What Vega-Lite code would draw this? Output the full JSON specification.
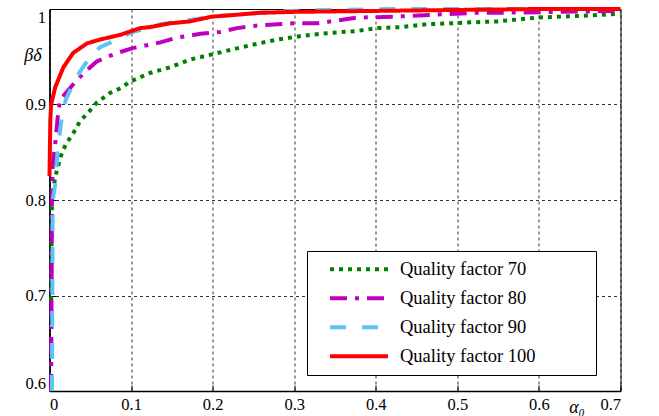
{
  "$schema": "https://vega.github.io/schema/vega-lite/v6.json",
  "width": 571,
  "height": 382,
  "autosize": {"type": "none"},
  "padding": {"left": 49.5, "top": 9, "right": 38.5, "bottom": 25},
  "background": "white",
  "config": {
    "font": "Liberation Serif",
    "view": {"stroke": "black", "strokeWidth": 1}
  },
  "data": {
    "values": [
      {"s": "Quality factor 70", "alpha": 0.002, "beta": 0.695},
      {"s": "Quality factor 70", "alpha": 0.003, "beta": 0.8},
      {"s": "Quality factor 70", "alpha": 0.007, "beta": 0.824},
      {"s": "Quality factor 70", "alpha": 0.010, "beta": 0.834},
      {"s": "Quality factor 70", "alpha": 0.015, "beta": 0.849},
      {"s": "Quality factor 70", "alpha": 0.021, "beta": 0.860},
      {"s": "Quality factor 70", "alpha": 0.028, "beta": 0.868},
      {"s": "Quality factor 70", "alpha": 0.037, "beta": 0.882},
      {"s": "Quality factor 70", "alpha": 0.050, "beta": 0.894},
      {"s": "Quality factor 70", "alpha": 0.058, "beta": 0.902},
      {"s": "Quality factor 70", "alpha": 0.074, "beta": 0.912},
      {"s": "Quality factor 70", "alpha": 0.087, "beta": 0.917},
      {"s": "Quality factor 70", "alpha": 0.099, "beta": 0.924},
      {"s": "Quality factor 70", "alpha": 0.123, "beta": 0.933},
      {"s": "Quality factor 70", "alpha": 0.148, "beta": 0.939},
      {"s": "Quality factor 70", "alpha": 0.172, "beta": 0.947},
      {"s": "Quality factor 70", "alpha": 0.197, "beta": 0.952},
      {"s": "Quality factor 70", "alpha": 0.221, "beta": 0.957},
      {"s": "Quality factor 70", "alpha": 0.246, "beta": 0.962},
      {"s": "Quality factor 70", "alpha": 0.279, "beta": 0.968},
      {"s": "Quality factor 70", "alpha": 0.311, "beta": 0.972},
      {"s": "Quality factor 70", "alpha": 0.344, "beta": 0.975},
      {"s": "Quality factor 70", "alpha": 0.377, "beta": 0.977},
      {"s": "Quality factor 70", "alpha": 0.402, "beta": 0.980},
      {"s": "Quality factor 70", "alpha": 0.430, "beta": 0.981},
      {"s": "Quality factor 70", "alpha": 0.463, "beta": 0.984},
      {"s": "Quality factor 70", "alpha": 0.491, "beta": 0.985},
      {"s": "Quality factor 70", "alpha": 0.516, "beta": 0.986},
      {"s": "Quality factor 70", "alpha": 0.549, "beta": 0.987},
      {"s": "Quality factor 70", "alpha": 0.598, "beta": 0.991},
      {"s": "Quality factor 70", "alpha": 0.655, "beta": 0.993},
      {"s": "Quality factor 70", "alpha": 0.700, "beta": 0.995},

      {"s": "Quality factor 80", "alpha": 0.002, "beta": 0.6},
      {"s": "Quality factor 80", "alpha": 0.003, "beta": 0.8},
      {"s": "Quality factor 80", "alpha": 0.004, "beta": 0.837},
      {"s": "Quality factor 80", "alpha": 0.007, "beta": 0.858},
      {"s": "Quality factor 80", "alpha": 0.010, "beta": 0.886},
      {"s": "Quality factor 80", "alpha": 0.013, "beta": 0.905},
      {"s": "Quality factor 80", "alpha": 0.025, "beta": 0.917},
      {"s": "Quality factor 80", "alpha": 0.034, "beta": 0.926},
      {"s": "Quality factor 80", "alpha": 0.046, "beta": 0.936},
      {"s": "Quality factor 80", "alpha": 0.058, "beta": 0.945},
      {"s": "Quality factor 80", "alpha": 0.071, "beta": 0.950},
      {"s": "Quality factor 80", "alpha": 0.087, "beta": 0.955},
      {"s": "Quality factor 80", "alpha": 0.102, "beta": 0.959},
      {"s": "Quality factor 80", "alpha": 0.136, "beta": 0.965},
      {"s": "Quality factor 80", "alpha": 0.156, "beta": 0.970},
      {"s": "Quality factor 80", "alpha": 0.185, "beta": 0.974},
      {"s": "Quality factor 80", "alpha": 0.209, "beta": 0.976},
      {"s": "Quality factor 80", "alpha": 0.230, "beta": 0.980},
      {"s": "Quality factor 80", "alpha": 0.258, "beta": 0.983},
      {"s": "Quality factor 80", "alpha": 0.299, "beta": 0.985},
      {"s": "Quality factor 80", "alpha": 0.328, "beta": 0.985},
      {"s": "Quality factor 80", "alpha": 0.353, "beta": 0.988},
      {"s": "Quality factor 80", "alpha": 0.377, "beta": 0.991},
      {"s": "Quality factor 80", "alpha": 0.424, "beta": 0.992},
      {"s": "Quality factor 80", "alpha": 0.471, "beta": 0.994},
      {"s": "Quality factor 80", "alpha": 0.520, "beta": 0.996},
      {"s": "Quality factor 80", "alpha": 0.544, "beta": 0.996},
      {"s": "Quality factor 80", "alpha": 0.626, "beta": 0.997},
      {"s": "Quality factor 80", "alpha": 0.700, "beta": 0.998},

      {"s": "Quality factor 90", "alpha": 0.003, "beta": 0.6},
      {"s": "Quality factor 90", "alpha": 0.004, "beta": 0.80},
      {"s": "Quality factor 90", "alpha": 0.007, "beta": 0.816},
      {"s": "Quality factor 90", "alpha": 0.010, "beta": 0.852},
      {"s": "Quality factor 90", "alpha": 0.015, "beta": 0.886},
      {"s": "Quality factor 90", "alpha": 0.020, "beta": 0.905},
      {"s": "Quality factor 90", "alpha": 0.028, "beta": 0.920},
      {"s": "Quality factor 90", "alpha": 0.037, "beta": 0.934},
      {"s": "Quality factor 90", "alpha": 0.050, "beta": 0.950},
      {"s": "Quality factor 90", "alpha": 0.062, "beta": 0.960},
      {"s": "Quality factor 90", "alpha": 0.083, "beta": 0.968},
      {"s": "Quality factor 90", "alpha": 0.099, "beta": 0.975},
      {"s": "Quality factor 90", "alpha": 0.136, "beta": 0.984},
      {"s": "Quality factor 90", "alpha": 0.200, "beta": 0.992},
      {"s": "Quality factor 90", "alpha": 0.258, "beta": 0.996},
      {"s": "Quality factor 90", "alpha": 0.295, "beta": 0.998},
      {"s": "Quality factor 90", "alpha": 0.344, "beta": 0.999},
      {"s": "Quality factor 90", "alpha": 0.430, "beta": 1.0},
      {"s": "Quality factor 90", "alpha": 0.700, "beta": 1.0},

      {"s": "Quality factor 100", "alpha": 0.000, "beta": 0.825},
      {"s": "Quality factor 100", "alpha": 0.001, "beta": 0.884},
      {"s": "Quality factor 100", "alpha": 0.002, "beta": 0.900},
      {"s": "Quality factor 100", "alpha": 0.007, "beta": 0.918},
      {"s": "Quality factor 100", "alpha": 0.017, "beta": 0.939},
      {"s": "Quality factor 100", "alpha": 0.029, "beta": 0.954},
      {"s": "Quality factor 100", "alpha": 0.046, "beta": 0.964},
      {"s": "Quality factor 100", "alpha": 0.062, "beta": 0.968},
      {"s": "Quality factor 100", "alpha": 0.087, "beta": 0.973},
      {"s": "Quality factor 100", "alpha": 0.111, "beta": 0.980},
      {"s": "Quality factor 100", "alpha": 0.123, "beta": 0.981},
      {"s": "Quality factor 100", "alpha": 0.148, "beta": 0.985},
      {"s": "Quality factor 100", "alpha": 0.172, "beta": 0.987},
      {"s": "Quality factor 100", "alpha": 0.199, "beta": 0.992},
      {"s": "Quality factor 100", "alpha": 0.230, "beta": 0.994},
      {"s": "Quality factor 100", "alpha": 0.258, "beta": 0.996},
      {"s": "Quality factor 100", "alpha": 0.300, "beta": 0.997},
      {"s": "Quality factor 100", "alpha": 0.400, "beta": 0.998},
      {"s": "Quality factor 100", "alpha": 0.500, "beta": 0.999},
      {"s": "Quality factor 100", "alpha": 0.600, "beta": 1.0},
      {"s": "Quality factor 100", "alpha": 0.700, "beta": 1.0}
    ]
  },
  "mark": {"type": "line", "strokeWidth": 4, "strokeCap": "butt"},
  "encoding": {
    "x": {
      "field": "alpha",
      "type": "quantitative",
      "scale": {"domain": [0, 0.7], "nice": false},
      "axis": {
        "values": [0, 0.1, 0.2, 0.3, 0.4, 0.5, 0.6, 0.7],
        "format": ".1~f",
        "labelFontSize": 16.5,
        "labelColor": "black",
        "labelPadding": 11,
        "ticks": true,
        "tickSize": -6,
        "tickColor": "black",
        "tickWidth": 1,
        "domainColor": "black",
        "domainWidth": 1.5,
        "grid": true,
        "gridColor": "black",
        "gridOpacity": 1,
        "gridDash": [3, 3],
        "gridWidth": 0.8,
        "title": "α₀",
        "titleFont": "Liberation Serif",
        "titleFontStyle": "italic",
        "titleFontWeight": "normal",
        "titleFontSize": 18,
        "titleColor": "black",
        "titleX": 527,
        "titleY": 16,
        "titleAlign": "center",
        "titleBaseline": "middle"
      }
    },
    "y": {
      "field": "beta",
      "type": "quantitative",
      "scale": {"domain": [0.6, 1], "nice": false, "zero": false},
      "axis": {
        "values": [0.6, 0.7, 0.8, 0.9, 1],
        "format": ".1~f",
        "labelFontSize": 16.5,
        "labelColor": "black",
        "labelPadding": 10,
        "labelFlush": true,
        "ticks": true,
        "tickSize": -6,
        "tickColor": "black",
        "tickWidth": 1,
        "domainColor": "black",
        "domainWidth": 1.5,
        "grid": true,
        "gridColor": "black",
        "gridOpacity": 1,
        "gridDash": [3, 3],
        "gridWidth": 0.8,
        "title": "βδ",
        "titleFont": "Liberation Serif",
        "titleFontStyle": "italic",
        "titleFontWeight": "normal",
        "titleFontSize": 18,
        "titleColor": "black",
        "titleAngle": 0,
        "titleX": -17,
        "titleY": 46,
        "titleAlign": "center",
        "titleBaseline": "middle"
      }
    },
    "color": {
      "field": "s",
      "type": "nominal",
      "scale": {
        "domain": ["Quality factor 70", "Quality factor 80", "Quality factor 90", "Quality factor 100"],
        "range": ["#008000", "#bf00bf", "#5ec4f7", "#ff0000"]
      },
      "legend": {
        "orient": "none",
        "legendX": 257.5,
        "legendY": 242,
        "title": null,
        "symbolType": "stroke",
        "symbolSize": 3364,
        "symbolStrokeWidth": 4,
        "symbolOffset": 17,
        "labelOffset": 10,
        "labelFontSize": 18.5,
        "labelFont": "Liberation Serif",
        "labelColor": "black",
        "labelLimit": 400,
        "labelExpr": "datum.label + '\u00a0\u00a0\u00a0\u00a0\u00a0\u00a0\u00a0\u00a0\u00a0\u00a0\u00a0\u00a0\u200b'",
        "fillColor": "white",
        "strokeColor": "black",
        "padding": 4,
        "clipHeight": 28.3,
        "rowPadding": 0
      }
    },
    "strokeDash": {
      "field": "s",
      "type": "nominal",
      "scale": {
        "domain": ["Quality factor 70", "Quality factor 80", "Quality factor 90", "Quality factor 100"],
        "range": [[4, 5], [17, 8, 4, 8], [16, 16], [1, 0]]
      },
      "legend": {
        "orient": "none",
        "legendX": 257.5,
        "legendY": 242,
        "title": null,
        "symbolType": "stroke",
        "symbolSize": 3364,
        "symbolStrokeWidth": 4,
        "symbolOffset": 17,
        "labelOffset": 10,
        "labelFontSize": 18.5,
        "labelFont": "Liberation Serif",
        "labelColor": "black",
        "labelLimit": 400,
        "labelExpr": "datum.label + '\u00a0\u00a0\u00a0\u00a0\u00a0\u00a0\u00a0\u00a0\u00a0\u00a0\u00a0\u00a0\u200b'",
        "fillColor": "white",
        "strokeColor": "black",
        "padding": 4,
        "clipHeight": 28.3,
        "rowPadding": 0
      }
    }
  }
}
